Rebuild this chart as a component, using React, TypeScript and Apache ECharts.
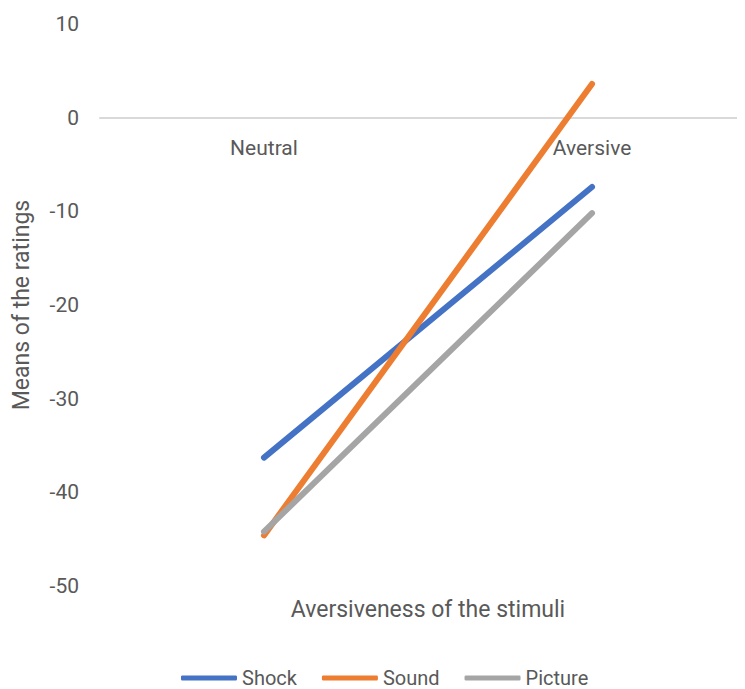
import React, { useEffect, useRef } from "react";
import * as echarts from "echarts";

const categories = ["Neutral", "Aversive"];
const shock = [-36.3, -7.4];
const sound = [-44.6, 3.6];
const picture = [-44.2, -10.2];

const seriesNames = ["Shock", "Sound", "Picture"];
const seriesColors = ["#4472C4", "#ED7D31", "#A5A5A5"];

const FONT = 'Roboto, "Noto Sans", sans-serif';
const TEXT = "#595959";
const GRID_TOP = 24;

export default function App() {
  const ref = useRef<HTMLDivElement>(null);

  useEffect(() => {
    if (!ref.current) return;
    const chart = echarts.init(ref.current, null, { renderer: "svg" });
    const values = [shock, sound, picture];

    chart.setOption({
      animation: false,
      backgroundColor: "#ffffff",
      textStyle: { fontFamily: FONT, color: TEXT },
      grid: {
        left: 100,
        right: -11,
        top: GRID_TOP,
        bottom: 103,
        containLabel: false,
        outerBoundsMode: "none",
      },
      legend: {
        left: 176,
        top: 663,
        icon: "roundRect",
        itemWidth: 56,
        itemHeight: 5,
        itemGap: 25,
        textStyle: { fontFamily: FONT, color: TEXT, fontSize: 20, lineHeight: 20 },
        data: seriesNames,
      },
      xAxis: [
        {
          // category axis drawn along the zero line, labels hanging below it
          type: "category",
          data: categories,
          position: "top",
          offset: 0,
          boundaryGap: true,
          axisLine: { show: true, onZero: false, lineStyle: { color: "#d9d9d9", width: 2 } },
          axisTick: { show: false },
          axisLabel: { inside: true, color: TEXT, fontSize: 21, fontFamily: FONT, margin: 20 },
          splitLine: { show: false },
        },
        {
          type: "category",
          data: categories,
          position: "bottom",
          boundaryGap: true,
          axisLine: { show: false, onZero: false },
          axisTick: { show: false },
          axisLabel: { show: false },
          splitLine: { show: false },
          name: "Aversiveness of the stimuli",
          nameLocation: "middle",
          nameGap: 12,
          nameTextStyle: { color: TEXT, fontSize: 23, fontFamily: FONT },
        },
      ],
      yAxis: {
        type: "value",
        min: -50,
        max: 10,
        interval: 10,
        axisLine: { show: false },
        axisTick: { show: false },
        splitLine: { show: false },
        axisLabel: { color: TEXT, fontSize: 21, fontFamily: FONT, margin: 21 },
        name: "Means of the ratings",
        nameLocation: "middle",
        nameGap: 67,
        nameTextStyle: { color: TEXT, fontSize: 23, fontFamily: FONT },
      },
      series: seriesNames.map((name, i) => ({
        name,
        type: "line",
        xAxisIndex: 0,
        data: values[i],
        showSymbol: false,
        symbol: "none",
        color: seriesColors[i],
        lineStyle: { color: seriesColors[i], width: 6, cap: "round" },
      })),
    });

    // move the category axis down to the y = 0 line
    const zeroY = chart.convertToPixel({ yAxisIndex: 0 }, 0) as number;
    chart.setOption({
      xAxis: [{ offset: -(zeroY - GRID_TOP) }, {}],
    });

    return () => chart.dispose();
  }, []);

  return <div ref={ref} style={{ width: 745, height: 689, marginLeft: -8, marginTop: -8 }} />;
}
